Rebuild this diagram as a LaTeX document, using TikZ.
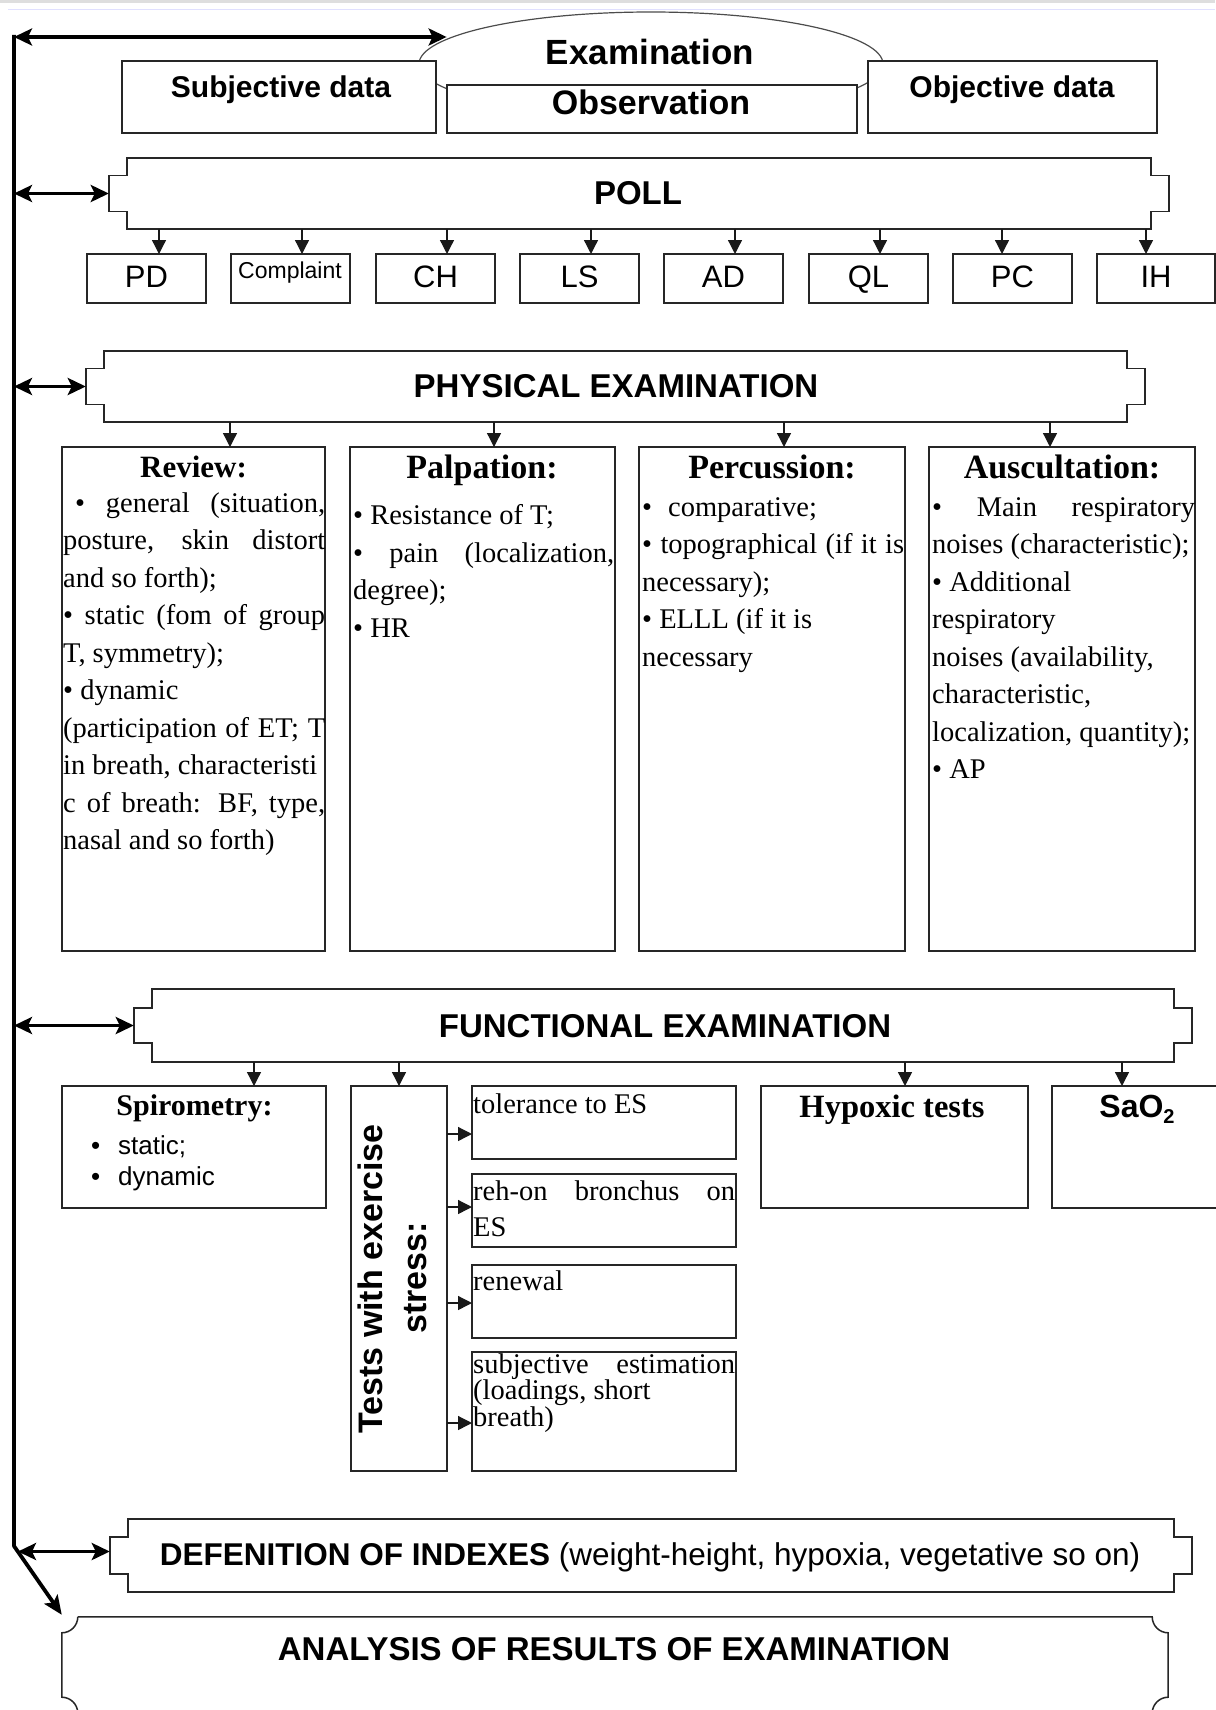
\documentclass[tikz,border=0pt]{standalone}
\usepackage{fontspec}
\setmainfont{Liberation Serif}
\setsansfont{Liberation Sans}
\usetikzlibrary{arrows.meta,calc,shapes.geometric}
\newcommand\jl[2]{\makebox[#1][s]{#2}}
\newcommand\notchoutline[3]{%
  \draw[boxline] (#1.north west) -- (#1.north east) -- ($(#1.east)+(0,-#3)$) -- ++(#2,0) -- ++(0,2*#3) -- ++(-#2,0) -- (#1.south east) -- (#1.south west) -- ($(#1.west)+(0,#3)$) -- ++(-#2,0) -- ++(0,-2*#3) -- ++(#2,0) -- cycle;}
\begin{document}
\begin{tikzpicture}[x=1pt,y=-1pt,
  boxline/.style={draw=black!85, line width=1.5pt, line join=miter},
  bx/.style={boxline, fill=white, inner sep=0pt, outer sep=0pt},
  dn/.style={draw=black!90, line width=1.3pt, -{Triangle[length=14pt,width=14pt]}},
  dbl/.style={draw=black, line width=3.6pt, {Stealth[length=18pt,width=17pt,inset=4pt]}-{Stealth[length=18pt,width=17pt,inset=4pt]}},
  hd/.style={font=\sffamily\bfseries\fontsize{33}{38}\selectfont, inner sep=0pt},
  sb/.style={bx, minimum width=119pt, minimum height=49pt, text height=22pt, text depth=5pt, font=\sffamily\fontsize{31}{36}\selectfont},
  ttl/.style={anchor=base, inner sep=0pt, font=\bfseries\fontsize{34}{40}\selectfont},
  body/.style={anchor=base west, inner sep=0pt, font=\fontsize{28.5}{37.5}\selectfont},
  big/.style={bx, minimum height=504pt}
]
\useasboundingbox (0,0) rectangle (1215,1710);
\fill[white] (0,0) rectangle (1215,1710);
\fill[black!13] (0,0) rectangle (1215,3);
\draw[blue!12, line width=1pt] (8,9.5) -- (1215,9.5);

% ---------- top ----------
\node[ellipse, draw=black!70, line width=1.2pt, fill=white, minimum width=464pt, minimum height=104pt, inner sep=0pt] (exam) at (651,64) {};
\node[anchor=base, inner sep=0pt, font=\sffamily\bfseries\fontsize{35}{40}\selectfont] (examT) at (650,65) {Examination};
\node[bx, minimum width=314pt, minimum height=72pt] (subj) at (279,97) {};
\node[bx, minimum width=410pt, minimum height=48pt] (obs) at (652,109) {};
\node[bx, minimum width=289pt, minimum height=72pt] (obj) at (1012.5,97) {};
\node[anchor=base, inner sep=0pt, font=\sffamily\bfseries\fontsize{30}{36}\selectfont] (subjT) at (281,97) {Subjective data};
\node[anchor=base, inner sep=0pt, font=\sffamily\bfseries\fontsize{34}{40}\selectfont] (obsT) at (651,114) {Observation};
\node[anchor=base, inner sep=0pt, font=\sffamily\bfseries\fontsize{30}{36}\selectfont] (objT) at (1012,97) {Objective data};
\coordinate (vtop) at (14,37);
\draw[dbl] (vtop) -- (vtop -| exam.173);

% ---------- POLL ----------
\node[hd, minimum width=1024pt, minimum height=71pt] (poll) at (639,193.5) {};
\notchoutline{poll}{18}{18}
\node[hd, anchor=base] (pollT) at (638,204) {POLL};
\draw[dbl] (vtop |- poll.west) -- ($(poll.west)+(-18,0)$);

\node[sb] (pd) at (146.5,278.5) {PD};
\node[sb] (cmp) at (290.5,278.5) {};
\node[anchor=base, inner sep=0pt, font=\sffamily\fontsize{23}{27}\selectfont] (cmpT) at (290,278) {Complaint};
\node[sb] (ch) at (435.5,278.5) {CH};
\node[sb] (ls) at (579.5,278.5) {LS};
\node[sb] (ad) at (723.5,278.5) {AD};
\node[sb] (ql) at (868.5,278.5) {QL};
\node[sb] (pc) at (1012.5,278.5) {PC};
\node[sb, minimum width=118pt] (ih) at (1156,278.5) {IH};
\foreach \n/\s in {pd/12.5, cmp/11.5, ch/11.5, ls/11.5, ad/11.5, ql/11.5, pc/-10.5, ih/-10}{
  \coordinate (in\n) at ($(\n.north)+(\s,0)$);
  \draw[dn] (poll.south -| in\n) -- (in\n);
}

% ---------- PHYSICAL EXAMINATION ----------
\node[hd, minimum width=1023pt, minimum height=71pt] (pe) at (615.5,386.5) {};
\notchoutline{pe}{18}{18}
\node[hd, anchor=base] (peT) at (616,397) {PHYSICAL EXAMINATION};
\draw[dbl] (vtop |- pe.west) -- ($(pe.west)+(-18,0)$);

\node[big, minimum width=263pt] (rev) at (193.5,699) {};
\node[big, minimum width=265pt] (pal) at (482.5,699) {};
\node[big, minimum width=266pt] (per) at (772,699) {};
\node[big, minimum width=266pt] (aus) at (1062,699) {};
\foreach \n/\s in {rev/36.5, pal/11.5, per/12, aus/-12}{
  \coordinate (in\n) at ($(\n.north)+(\s,0)$);
  \draw[dn] (pe.south -| in\n) -- (in\n);
}
\node[ttl, font=\bfseries\fontsize{31}{36}\selectfont] (revH) at (193.5,477) {Review:};
\node[ttl] (palH) at (482,478) {Palpation:};
\node[ttl] (perH) at (772,478) {Percussion:};
\node[ttl] (ausH) at (1062,478) {Auscultation:};

\node[body] (revB) at (63,512) {\parbox[t]{262pt}{\fontsize{28.5}{37.5}\selectfont
\jl{262pt}{\hspace*{12pt}• general (situation,}\\
\jl{262pt}{posture, skin distort}\\
and so forth);\\
\jl{262pt}{• static (fom of group}\\
T, symmetry);\\
• dynamic\\
\jl{262pt}{(participation of ET; T}\\
in breath, characteristi\\
\jl{262pt}{c of breath: BF, type,}\\
nasal and so forth)}};

\node[body] (palB) at (353,524.5) {\parbox[t]{261pt}{\fontsize{28.5}{37.5}\selectfont
• Resistance of T;\\
\jl{261pt}{• pain (localization,}\\
degree);\\
• HR}};

\node[body] (perB) at (642,516) {\parbox[t]{262pt}{\fontsize{28.5}{37.5}\selectfont
•\hspace{16pt}comparative;\\
\jl{262pt}{• topographical (if it is}\\
necessary);\\
• ELLL (if it is\\
necessary}};

\node[body] (ausB) at (932,516) {\parbox[t]{263pt}{\fontsize{28.5}{37.5}\selectfont
\jl{263pt}{• Main respiratory}\\
noises (characteristic);\\
• Additional\\
respiratory\\
noises (availability,\\
characteristic,\\
localization, quantity);\\
• AP}};

% ---------- FUNCTIONAL EXAMINATION ----------
\node[hd, minimum width=1022pt, minimum height=73pt] (fe) at (663,1025.5) {};
\notchoutline{fe}{18}{17.5}
\node[hd, anchor=base] (feT) at (665,1037) {FUNCTIONAL EXAMINATION};
\draw[dbl] (vtop |- fe.west) -- ($(fe.west)+(-18,0)$);

\node[bx, minimum width=264pt, minimum height=122pt] (spi) at (194,1147) {};
\node[bx, minimum width=96pt, minimum height=385pt] (tst) at (399,1278.5) {};
\node[bx, minimum width=264pt, minimum height=73pt] (t1) at (604,1122.5) {};
\node[bx, minimum width=264pt, minimum height=73pt] (t2) at (604,1210.5) {};
\node[bx, minimum width=264pt, minimum height=73pt] (t3) at (604,1301.5) {};
\node[bx, minimum width=264pt, minimum height=119pt] (t4) at (604,1411.5) {};
\node[bx, minimum width=267pt, minimum height=122pt] (hyp) at (894.5,1147) {};
\node[bx, minimum width=178pt, minimum height=122pt] (sao) at (1141,1147) {};
\foreach \n/\s in {spi/60, tst/0, hyp/10.5, sao/-19}{
  \coordinate (in\n) at ($(\n.north)+(\s,0)$);
  \draw[dn] (fe.south -| in\n) -- (in\n);
}
\foreach \n/\s in {t1/11.5, t2/-3.5, t3/1.5, t4/11.5}{
  \coordinate (in\n) at ($(\n.west)+(0,\s)$);
  \draw[dn] (tst.east |- in\n) -- (in\n);
}
\node[anchor=base, inner sep=0pt, font=\bfseries\fontsize{30}{36}\selectfont] (spiH) at (194.5,1115) {Spirometry:};
\node[anchor=base west, inner sep=0pt] (spiB) at (90.8,1154) {\parbox[t]{200pt}{\sffamily\fontsize{26}{31}\selectfont •\hspace{18pt}static;\\ •\hspace{18pt}dynamic}};
\node[rotate=90, anchor=base, inner sep=0pt, font=\sffamily\bfseries\fontsize{34}{40}\selectfont] (tstT1) at (382.6,1279) {Tests with exercise};
\node[rotate=90, anchor=base, inner sep=0pt, font=\sffamily\bfseries\fontsize{34}{40}\selectfont] (tstT2) at (426.6,1278) {stress:};
\node[body] (t1T) at (473,1113) {tolerance to ES};
\node[body] (t2T) at (473,1200) {\parbox[t]{262pt}{\fontsize{28.5}{36.7}\selectfont\jl{262pt}{reh-on bronchus on}\\ES}};
\node[body] (t3T) at (473,1290) {renewal};
\node[body] (t4T) at (473,1373) {\parbox[t]{262pt}{\fontsize{28.5}{25.5}\selectfont\jl{262pt}{subjective estimation}\\(loadings, short\\breath)}};
\node[anchor=base, inner sep=0pt, font=\bfseries\fontsize{32.5}{38}\selectfont] (hypT) at (892,1117) {Hypoxic tests};
\node[anchor=base, inner sep=0pt, font=\sffamily\bfseries\fontsize{32}{38}\selectfont] (saoT) at (1137,1117) {SaO\raisebox{-6pt}{\fontsize{20}{22}\selectfont 2}};

% ---------- DEFINITION ----------
\node[hd, minimum width=1046pt, minimum height=73pt] (def) at (651,1555.5) {};
\notchoutline{def}{18}{18.5}
\node[anchor=base, inner sep=0pt, font=\sffamily\fontsize{31.5}{36}\selectfont] (defT) at (650,1565) {\textbf{DEFENITION OF INDEXES} (weight-height, hypoxia, vegetative so on)};

% ---------- ANALYSIS ----------
\node[inner sep=0pt, minimum width=1106pt, minimum height=96pt] (anal) at (615,1665) {};
\draw[boxline] ($(anal.north west)+(16,0)$) -- ($(anal.north east)+(-16,0)$)
  .. controls +(0,8.8) and +(-8.8,0) .. ($(anal.north east)+(0,16)$)
  -- ($(anal.south east)+(0,-16)$)
  .. controls +(-8.8,0) and +(0,-8.8) .. ($(anal.south east)+(-16,0)$)
  -- ($(anal.south west)+(16,0)$)
  .. controls +(0,-8.8) and +(8.8,0) .. ($(anal.south west)+(0,-16)$)
  -- ($(anal.north west)+(0,16)$)
  .. controls +(8.8,0) and +(0,8.8) .. ($(anal.north west)+(16,0)$);
\node[hd, anchor=base] (analT) at (614,1660) {ANALYSIS OF RESULTS OF EXAMINATION};

% ---------- spine ----------
\coordinate (vstart) at (14,35);
\coordinate (vbot) at (14,1546);
\draw[line width=3.8pt, line join=round, -{Stealth[length=19pt,width=16pt,inset=4pt]}] (vstart) -- (vbot) -- ($(anal.north west)+(0,-2)$);
\coordinate (defIn) at ($(def.west)+(-18,-4)$);
\coordinate (defOut) at ($(defIn -| vtop)+(4,0)$);
\draw[dbl] (defOut) -- (defIn);
\end{tikzpicture}
\end{document}
